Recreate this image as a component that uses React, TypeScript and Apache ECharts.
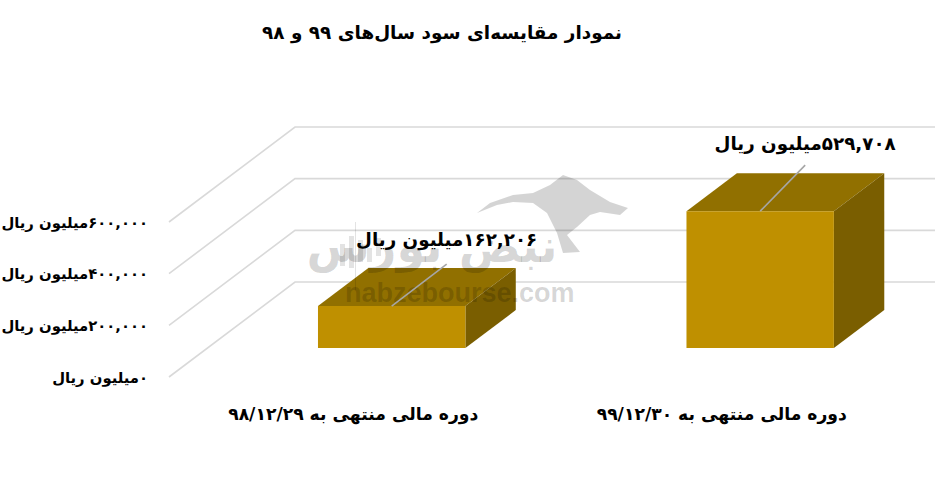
import React, { useEffect, useRef } from "react";
import * as echarts from "echarts";

const titleText = "نمودار مقایسه‌ای سود سال‌های ۹۹ و ۹۸";
const categories = ["دوره مالی منتهی به ۹۸/۱۲/۲۹", "دوره مالی منتهی به ۹۹/۱۲/۳۰"];
const profitValues = [162206, 529708];
const yTicks = [0, 200000, 400000, 600000];
const UNIT = "میلیون ریال";
const FONT = "'DejaVu Sans', 'Noto Sans', sans-serif";

const RLM = "\u200f";
const faDigits = (n: number) =>
  n.toLocaleString("en-US").replace(/\d/g, (d) => "۰۱۲۳۴۵۶۷۸۹"[Number(d)]);
const withUnit = (n: number) => RLM + faDigits(n) + UNIT;

const DEPTH_X = 126;
const DEPTH_Y = -95;
const BAR_START = 0.305;
const BAR_DEPTH = 0.4;
const BAR_RATIO = 0.4;
const leaderDx = [55, 45];
const leaderDy = [-42, -46];
const labelGap = [-25, -22];

echarts.graphic.registerShape(
  "bullMark",
  echarts.graphic.extendPath(
    "M477 213 L490 203 L513 195 L533 193 L550 185 L563 175 L577 180 L590 190 L610 202 L628 208 L620 215 L600 212 L590 215 L577 227 L567 235 L580 252 L563 253 L557 233 L547 213 L533 203 L513 202 L497 205 Z",
    {}
  )
);

const watermarkColor = "rgba(0,0,0,0.17)";
const candleColor = "rgba(0,0,0,0.11)";
const candles: number[][] = [
  [340, 244, 5, 22],
  [349, 236, 5, 32],
  [355, 222, 1, 68],
  [358, 240, 5, 22],
  [367, 248, 5, 14],
  [376, 238, 5, 18],
];

const App = () => {
  const ref = useRef<HTMLDivElement>(null);
  useEffect(() => {
    const chart = echarts.init(ref.current!, undefined, { renderer: "svg" });
    const option: any = {
      animation: false,
      backgroundColor: "#ffffff",
      title: {
        text: titleText,
        left: 437,
        top: 18,
        textAlign: "center",
        textStyle: { fontFamily: FONT, fontSize: 18.4, fontWeight: "bold", color: "#000" },
      },
      grid: { left: 169, top: 222, right: 29, bottom: 101, outerBoundsMode: "none" },
      xAxis: {
        type: "category",
        data: categories,
        axisLine: { show: false },
        axisTick: { show: false },
        splitLine: { show: false },
        axisLabel: {
          margin: 28,
          interval: 0,
          fontFamily: FONT,
          fontSize: 17.2,
          fontWeight: "bold",
          color: "#000",
        },
      },
      yAxis: {
        type: "value",
        min: 0,
        max: 600000,
        interval: 200000,
        axisLine: { show: false },
        axisTick: { show: false },
        splitLine: { show: false },
        axisLabel: {
          margin: 21,
          padding: [4, 0, 0, 0],
          fontFamily: FONT,
          fontSize: 14.8,
          fontWeight: "bold",
          color: "#000",
          formatter: (v: number) => withUnit(v),
        },
      },
      graphic: {
        elements: [
          {
            type: "group",
            silent: true,
            children: [
              { type: "bullMark", z: 5, style: { fill: watermarkColor } },
              {
                type: "text",
                z: 5,
                x: 432,
                y: 246,
                style: {
                  text: "نبض بورس",
                  fill: watermarkColor,
                  font: `bold 46px ${FONT}`,
                  textAlign: "center",
                  textVerticalAlign: "middle",
                },
              },
              {
                type: "text",
                z: 5,
                x: 345,
                y: 293,
                style: {
                  text: "nabzebourse.com",
                  fill: watermarkColor,
                  font: "bold 27px 'Liberation Sans', sans-serif",
                  textAlign: "left",
                  textVerticalAlign: "middle",
                },
              },
              ...candles.map((c) => ({
                type: "rect",
                z: 5,
                shape: { x: c[0], y: c[1], width: c[2], height: c[3] },
                style: { fill: candleColor },
              })),
            ],
          },
        ],
      },
      series: [
        {
          type: "custom",
          name: "grid",
          z: 1,
          silent: true,
          encode: { x: 0, y: 1 },
          data: yTicks.map((t) => [0, t]),
          renderItem: (params: any, api: any) => {
            const left = params.coordSys.x;
            const y = api.coord([0, api.value(1)])[1];
            const bx = left + DEPTH_X;
            const by = y + DEPTH_Y;
            return {
              type: "polyline",
              shape: { points: [[left, y], [bx, by], [api.getWidth(), by]] },
              style: { stroke: "#d9d9d9", lineWidth: 1.6, fill: "none" },
            };
          },
        },
        {
          type: "custom",
          name: "box",
          z: 2,
          silent: true,
          encode: { x: 0, y: 1 },
          data: profitValues.map((v, i) => [i, v]),
          renderItem: (_: any, api: any) => {
            const top = api.coord([api.value(0), api.value(1)]);
            const base = api.coord([api.value(0), 0]);
            const band = api.size([1, 0])[0];
            const w = band * BAR_RATIO;
            const ox = DEPTH_X * BAR_START;
            const oy = DEPTH_Y * BAR_START;
            const dx = DEPTH_X * BAR_DEPTH;
            const dy = DEPTH_Y * BAR_DEPTH;
            const x0 = top[0] + ox - w / 2;
            const x1 = x0 + w;
            const yt = top[1] + oy;
            const yb = base[1] + oy;
            return {
              type: "group",
              children: [
                {
                  type: "polygon",
                  shape: { points: [[x0, yt], [x1, yt], [x1 + dx, yt + dy], [x0 + dx, yt + dy]] },
                  style: { fill: "#917000" },
                },
                {
                  type: "polygon",
                  shape: { points: [[x1, yt], [x1 + dx, yt + dy], [x1 + dx, yb + dy], [x1, yb]] },
                  style: { fill: "#7a5e00" },
                },
                {
                  type: "rect",
                  shape: { x: x0, y: yt, width: w, height: yb - yt },
                  style: { fill: "#bf9000" },
                },
              ],
            };
          },
        },
        {
          type: "custom",
          name: "labels",
          z: 10,
          silent: true,
          encode: { x: 0, y: 1 },
          data: profitValues.map((v, i) => [i, v]),
          renderItem: (params: any, api: any) => {
            const i = params.dataIndex;
            const v = api.value(1);
            const top = api.coord([api.value(0), v]);
            const sx = top[0] + DEPTH_X * BAR_START;
            const sy = top[1] + DEPTH_Y * BAR_START;
            const ex = sx + leaderDx[i];
            const ey = sy + leaderDy[i];
            return {
              type: "group",
              children: [
                {
                  type: "line",
                  shape: { x1: sx, y1: sy, x2: ex, y2: ey },
                  style: { stroke: "#a6a6a6", lineWidth: 1.6 },
                },
                {
                  type: "text",
                  x: ex,
                  y: ey + labelGap[i],
                  style: {
                    text: withUnit(v),
                    fill: "#000",
                    font: `bold 18.3px ${FONT}`,
                    textAlign: "center",
                    textVerticalAlign: "middle",
                  },
                },
              ],
            };
          },
        },
      ],
    };
    chart.setOption(option);
    return () => chart.dispose();
  }, []);
  return (
    <div
      ref={ref}
      style={{ position: "absolute", left: 0, top: 0, width: 935, height: 478, overflow: "hidden" }}
    />
  );
};

export default App;
